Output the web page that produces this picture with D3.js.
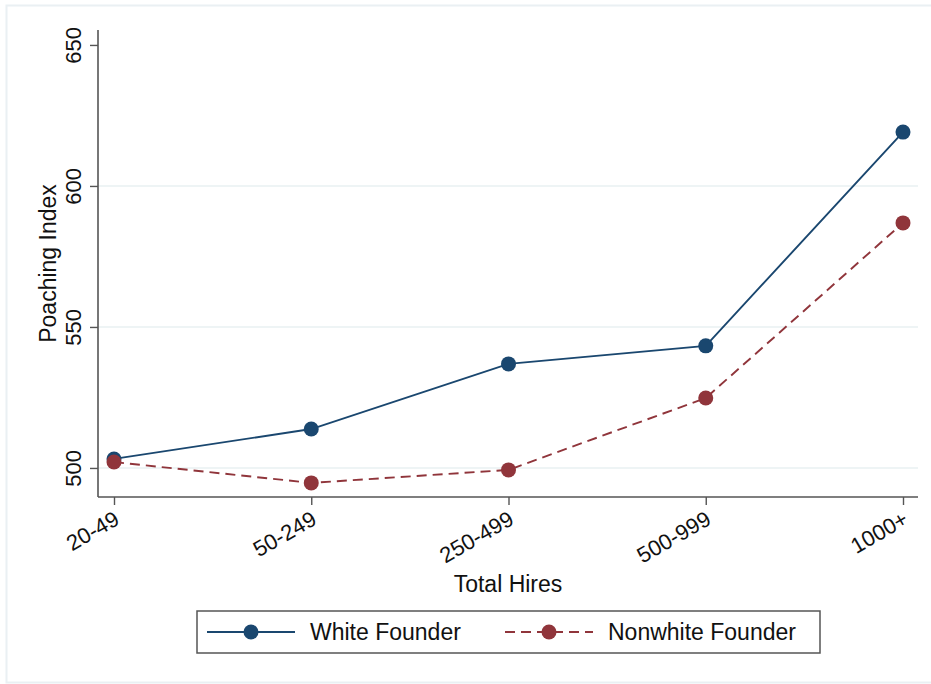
<!DOCTYPE html>
<html lang="en">
<head>
<meta charset="UTF-8">
<title>Poaching Index by Total Hires</title>
<script src="https://d3js.org/d3.v7.min.js"></script>
<style>
  body { margin: 0; background: #fff; font-family: "Liberation Sans", Arial, sans-serif; }
  svg text { fill: #111; }
</style>
</head>
<body>
<svg id="chart" width="931" height="684"></svg>
<script>
// data
const categories = ["20-49", "50-249", "250-499", "500-999", "1000+"];
const whiteFounder = [503.2, 513.8, 536.9, 543.3, 619.1];
const nonwhiteFounder = [502.1, 494.7, 499.3, 524.8, 586.9];
const yTicks = [500, 550, 600, 650];

const series = [
  { name: "White Founder", values: whiteFounder, color: "#1a476f", dash: null },
  { name: "Nonwhite Founder", values: nonwhiteFounder, color: "#90353b", dash: "10,6" }
];

const svg = d3.select("#chart");

// faint outer frame
svg.append("rect")
  .attr("x", 6.5).attr("y", 5.5)
  .attr("width", 930).attr("height", 677)
  .attr("fill", "#fff")
  .attr("stroke", "#eaf0f3").attr("stroke-width", 2);

const plotLeft = 98, plotRight = 918, plotTop = 30, plotBottom = 497;

const x = d3.scalePoint().domain(categories).range([114, 903]);
const y = d3.scaleLinear().domain([489.7, 655.3]).range([plotBottom, plotTop]);

// gridlines
svg.append("g").selectAll("line")
  .data(yTicks.filter(t => t < 650))
  .enter().append("line")
  .attr("x1", plotLeft).attr("x2", plotRight)
  .attr("y1", d => y(d)).attr("y2", d => y(d))
  .attr("stroke", "#e8f0f2").attr("stroke-width", 1.5);

// y axis
const yAxis = svg.append("g")
  .attr("transform", `translate(${plotLeft},0)`)
  .call(d3.axisLeft(y).tickValues(yTicks).tickSize(8));
yAxis.select(".domain").attr("d", `M0,${plotTop}V${plotBottom}`).attr("stroke", "#555").attr("stroke-width", 1.6);
yAxis.selectAll(".tick line").attr("stroke", "#555").attr("stroke-width", 1.4);
yAxis.selectAll(".tick text")
  .attr("font-size", 22)
  .attr("font-family", "Liberation Sans, Arial, sans-serif")
  .attr("text-anchor", "middle")
  .attr("x", null).attr("dy", null)
  .attr("transform", "translate(-17,0) rotate(-90)");

// x axis
const xAxis = svg.append("g")
  .attr("transform", `translate(0,${plotBottom})`)
  .call(d3.axisBottom(x).tickSize(8));
xAxis.select(".domain").attr("d", `M${plotLeft},0H${plotRight}`).attr("stroke", "#555").attr("stroke-width", 1.6);
xAxis.selectAll(".tick line").attr("stroke", "#555").attr("stroke-width", 1.4);
xAxis.selectAll(".tick text")
  .attr("font-size", 22)
  .attr("font-family", "Liberation Sans, Arial, sans-serif")
  .attr("text-anchor", "end")
  .attr("y", null).attr("dy", "0.75em")
  .attr("transform", "translate(-2,12) rotate(-30)");

// axis titles
svg.append("text")
  .attr("x", 508).attr("y", 592)
  .attr("text-anchor", "middle")
  .attr("font-size", 23)
  .text("Total Hires");
svg.append("text")
  .attr("transform", `translate(56,${(plotTop + plotBottom) / 2}) rotate(-90)`)
  .attr("text-anchor", "middle")
  .attr("font-size", 23)
  .text("Poaching Index");

// lines + markers
const line = d3.line().x((d, i) => x(categories[i])).y(d => y(d));
series.forEach(s => {
  svg.append("path")
    .datum(s.values)
    .attr("d", line)
    .attr("fill", "none")
    .attr("stroke", s.color)
    .attr("stroke-width", 1.9)
    .attr("stroke-dasharray", s.dash);
});
series.forEach(s => {
  svg.append("g").selectAll("circle")
    .data(s.values)
    .enter().append("circle")
    .attr("cx", (d, i) => x(categories[i]))
    .attr("cy", d => y(d))
    .attr("r", 7.5)
    .attr("fill", s.color);
});

// legend
const legend = svg.append("g");
legend.append("rect")
  .attr("x", 197).attr("y", 611)
  .attr("width", 623).attr("height", 42)
  .attr("fill", "#fff").attr("stroke", "#555").attr("stroke-width", 1.5);
const legendX = [207, 505];
series.forEach((s, i) => {
  const g = legend.append("g").attr("transform", `translate(${legendX[i]},632)`);
  g.append("line")
    .attr("x1", 0).attr("x2", 88)
    .attr("stroke", s.color).attr("stroke-width", 1.9)
    .attr("stroke-dasharray", s.dash);
  g.append("circle").attr("cx", 44).attr("r", 7.5).attr("fill", s.color);
  g.append("text")
    .attr("x", 103).attr("y", 8)
    .attr("font-size", 23)
    .text(s.name);
});
</script>
</body>
</html>
